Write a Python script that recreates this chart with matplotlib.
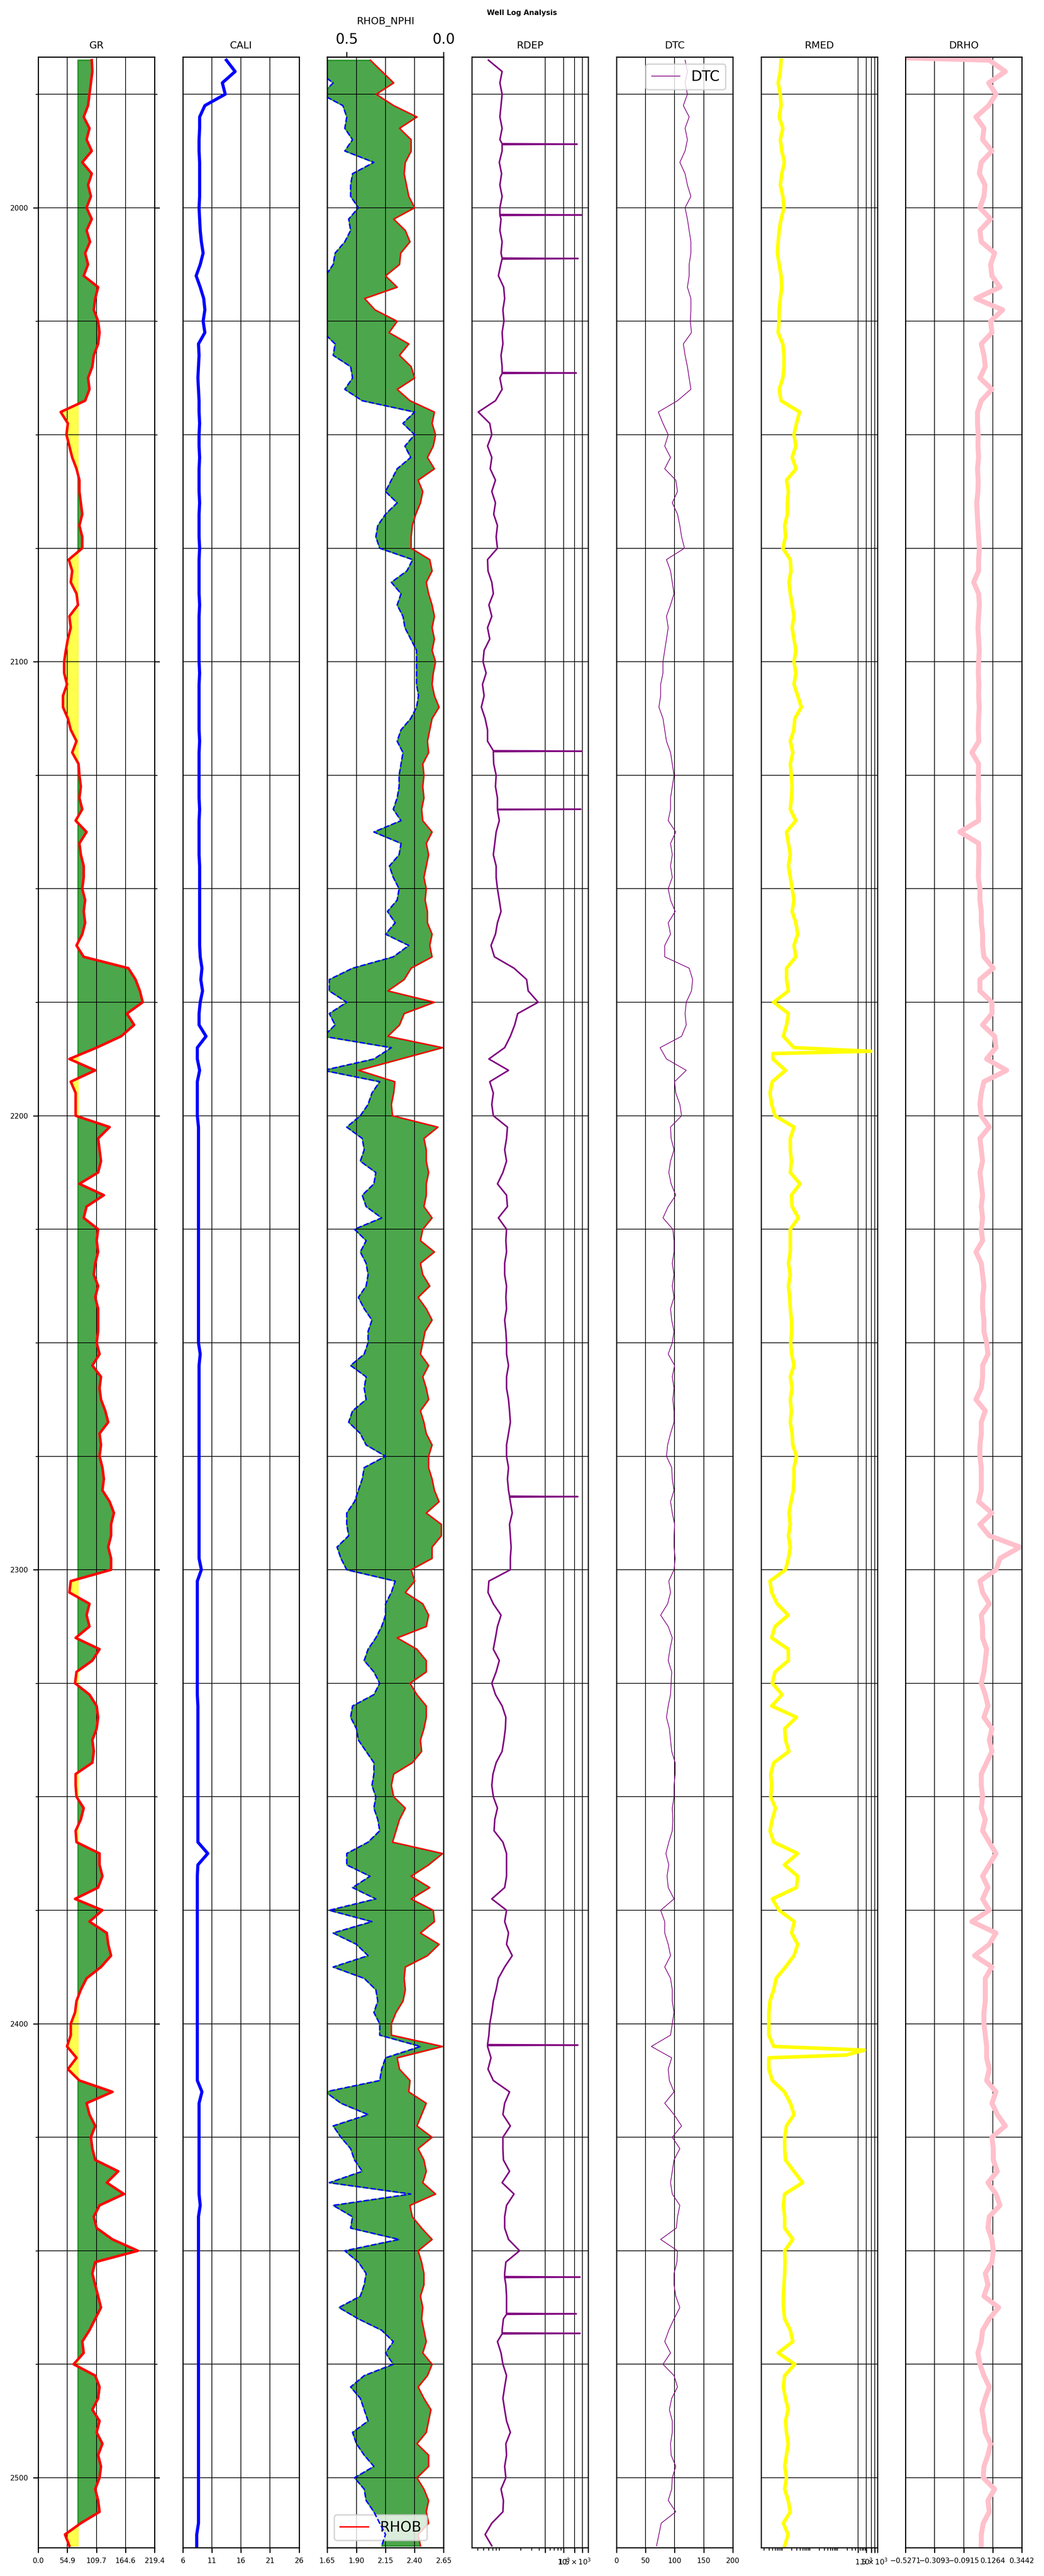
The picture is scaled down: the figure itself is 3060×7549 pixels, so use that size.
import numpy as np
import matplotlib
matplotlib.use("Agg")
import matplotlib.pyplot as plt
from matplotlib.ticker import MultipleLocator, NullFormatter

# depth samples (m), every 2.5 m
depth = np.arange(1967.5, 2515.1, 2.5)

gr = [101.0, 102.1, 99.4, 96.7, 94.0, 85.8, 96.7, 91.2, 101.0, 83.1,
      101.0, 94.0, 99.4, 91.2, 101.0, 91.2, 97.8, 88.5, 94.0, 85.8,
      113.0, 107.5, 104.8, 113.0, 115.7, 113.0, 104.8, 102.1, 94.0, 96.7,
      88.5, 42.4, 55.9, 53.2, 58.7, 64.1, 72.2, 77.7, 77.7, 80.4,
      83.1, 77.7, 83.1, 83.1, 57.6, 64.1, 61.4, 72.2, 75.0, 58.7,
      61.4, 55.9, 52.1, 48.9, 48.9, 54.3, 46.7, 46.7, 55.9, 61.4,
      72.2, 64.1, 76.0, 77.7, 80.4, 77.7, 83.1, 70.6, 91.2, 77.7,
      80.4, 85.8, 85.8,
      83.1, 88.5, 85.8, 88.5, 83.1, 72.2, 85.8, 170.0, 183.6, 191.7,
      197.1, 167.3, 180.9, 156.4, 110.2, 58.7, 107.5, 61.4, 70.6, 70.6,
      70.6, 134.7, 113.0, 115.7, 118.4, 113.0, 77.7, 123.8, 91.2, 85.8,
      113.0, 110.2, 113.0, 107.5, 104.8, 113.0, 107.5, 113.0, 113.0, 113.0,
      110.2, 115.7, 102.1, 118.4, 115.7, 118.4, 126.5, 132.0, 115.7, 118.4,
      115.7, 121.1, 123.8, 121.1, 134.7, 142.8, 137.4, 137.4, 132.0, 137.4,
      137.4, 61.4, 58.7, 96.7, 91.2, 96.7, 70.6, 115.7, 102.1, 72.2,
      69.5, 96.7, 110.2, 113.0,
      110.2, 102.1, 104.8, 102.1, 70.6, 70.6, 72.2, 85.8, 80.4, 70.6,
      72.2, 115.7, 115.7, 121.1, 113.0, 69.5, 121.1, 96.7, 129.3, 132.0,
      137.4, 118.4, 91.2, 80.4, 72.2, 69.5, 61.4, 61.4, 54.3, 72.2,
      55.9, 77.7, 140.1, 91.2, 96.7, 107.5, 99.4, 102.1, 107.5, 151.0,
      129.3, 161.8, 115.7, 104.8, 110.2, 140.1, 188.0, 107.5, 102.1, 107.5,
      113.0, 118.4, 107.5, 96.7, 83.1, 85.8, 66.8, 107.5, 115.7, 113.0,
      102.1, 115.7, 110.2, 121.1, 113.0, 118.4, 115.7, 107.5, 113.0, 115.7,
      80.4, 50.5, 58.7]

cali = [13.5, 15.0, 12.8, 13.3, 9.8, 8.9, 8.9, 8.8, 8.8, 8.9,
        8.9, 8.9, 8.9, 8.8, 8.9, 9.0, 9.2, 9.5, 9.0, 8.3,
        9.0, 9.6, 9.8, 9.5, 9.8, 8.7, 8.8, 8.7, 8.6, 8.7,
        8.8, 8.8, 8.9, 8.8, 8.8, 8.9, 8.8, 8.8, 8.8, 8.9,
        8.8, 8.8, 8.8, 8.9, 8.8, 8.8, 8.8, 8.8, 8.9, 8.8,
        8.8, 8.8, 8.8, 8.8, 8.9, 8.8, 8.8, 8.8, 8.8, 8.8,
        8.9, 8.8, 8.8, 8.8, 8.8, 8.8, 8.9, 8.8, 8.8, 8.8,
        8.8, 8.9, 8.9,
        8.9, 8.9, 8.9, 8.9, 8.9, 8.9, 9.0, 9.3, 9.1, 9.4,
        9.0, 8.8, 8.8, 10.0, 8.5, 8.5, 8.9, 8.5, 8.5, 8.5,
        8.5, 8.7, 8.7, 8.7, 8.7, 8.7, 8.7, 8.7, 8.7, 8.7,
        8.7, 8.7, 8.7, 8.7, 8.7, 8.7, 8.7, 8.7, 8.7, 8.7,
        8.7, 9.0, 8.8, 8.8, 8.8, 8.8, 8.8, 8.8, 8.8, 8.8,
        8.8, 8.8, 8.8, 8.8, 8.8, 8.8, 8.8, 8.8, 8.8, 8.8,
        9.2, 8.5, 8.5, 8.5, 8.5, 8.5, 8.5, 8.5, 8.5, 8.5,
        8.5, 8.5, 8.6, 8.6,
        8.6, 8.6, 8.6, 8.6, 8.6, 8.6, 8.6, 8.6, 8.6, 8.6,
        8.6, 10.3, 8.6, 8.5, 8.5, 8.5, 8.5, 8.5, 8.5, 8.5,
        8.5, 8.5, 8.5, 8.5, 8.5, 8.5, 8.5, 8.5, 8.5, 8.5,
        8.5, 8.5, 9.3, 8.8, 8.8, 8.8, 8.8, 8.8, 8.8, 8.8,
        8.8, 8.8, 9.0, 8.7, 8.7, 8.7, 8.7, 8.7, 8.7, 8.7,
        8.7, 8.7, 8.7, 8.7, 8.7, 8.7, 8.7, 8.7, 8.7, 8.7,
        8.7, 8.7, 8.7, 8.7, 8.7, 8.7, 8.7, 8.7, 8.7, 8.7,
        8.7, 8.4, 8.4]

rhob = [2.02, 2.12, 2.22, 2.07, 2.22, 2.42, 2.27, 2.37, 2.37, 2.32,
        2.31, 2.33, 2.35, 2.40, 2.22, 2.32, 2.36, 2.28, 2.27, 2.15,
        2.25, 1.97, 2.06, 2.25, 2.18, 2.35, 2.27, 2.37, 2.40, 2.25,
        2.36, 2.57, 2.55, 2.58, 2.56, 2.51, 2.57, 2.43, 2.47, 2.45,
        2.41, 2.38, 2.37, 2.37, 2.53, 2.55, 2.50, 2.52, 2.55, 2.57,
        2.55, 2.57, 2.55, 2.58, 2.56, 2.55, 2.57, 2.61, 2.55, 2.53,
        2.51, 2.52, 2.47, 2.48, 2.47, 2.48, 2.46, 2.47, 2.55, 2.50,
        2.52, 2.50, 2.48,
        2.50, 2.49, 2.51, 2.51, 2.55, 2.53, 2.55, 2.37, 2.31, 2.17,
        2.57, 2.31, 2.27, 2.17, 2.64, 2.28, 1.92, 2.23, 2.22, 2.20,
        2.21, 2.60, 2.48, 2.50, 2.50, 2.52, 2.50, 2.50, 2.48, 2.55,
        2.47, 2.45, 2.57, 2.45, 2.47, 2.53, 2.43, 2.50, 2.55, 2.49,
        2.47, 2.45, 2.52, 2.47, 2.50, 2.52, 2.45, 2.48, 2.50, 2.55,
        2.52, 2.52, 2.55, 2.57, 2.61, 2.50, 2.63, 2.63, 2.55, 2.55,
        2.37, 2.40, 2.32, 2.47, 2.52, 2.50, 2.25, 2.42, 2.50, 2.50,
        2.36, 2.42, 2.50, 2.50,
        2.48, 2.45, 2.46, 2.38, 2.22, 2.20, 2.22, 2.32, 2.27, 2.24,
        2.21, 2.64, 2.52, 2.37, 2.53, 2.37, 2.56, 2.57, 2.45, 2.61,
        2.51, 2.32, 2.31, 2.32, 2.30, 2.24, 2.20, 2.20, 2.64, 2.25,
        2.27, 2.36, 2.35, 2.50, 2.46, 2.42, 2.55, 2.43, 2.48, 2.50,
        2.47, 2.58, 2.36, 2.38, 2.46, 2.55, 2.43, 2.46, 2.48, 2.48,
        2.45, 2.47, 2.46, 2.48, 2.50, 2.47, 2.55, 2.51, 2.43, 2.48,
        2.54, 2.52, 2.50, 2.42, 2.52, 2.52, 2.42, 2.48, 2.52, 2.50,
        2.52, 2.43, 2.45]

nphi = [0.65, 0.65, 0.57, 0.63, 0.52, 0.50, 0.51, 0.47, 0.51, 0.36,
        0.47, 0.48, 0.48, 0.44, 0.49, 0.48, 0.51, 0.56, 0.57, 0.61,
        0.62, 0.62, 0.63, 0.63, 0.62, 0.56, 0.57, 0.48, 0.47, 0.51,
        0.42, 0.15, 0.21, 0.15, 0.20, 0.17, 0.24, 0.27, 0.30, 0.24,
        0.30, 0.34, 0.35, 0.33, 0.16, 0.19, 0.27, 0.22, 0.24, 0.21,
        0.20, 0.17, 0.14, 0.14, 0.14, 0.14, 0.13, 0.14, 0.17, 0.22,
        0.24, 0.21, 0.22, 0.23, 0.23, 0.24, 0.26, 0.22, 0.36, 0.22,
        0.23, 0.28, 0.26,
        0.23, 0.24, 0.29, 0.25, 0.30, 0.18, 0.26, 0.47, 0.59, 0.59,
        0.50, 0.59, 0.56, 0.62, 0.27, 0.36, 0.62, 0.33, 0.37, 0.39,
        0.43, 0.50, 0.42, 0.41, 0.43, 0.35, 0.36, 0.42, 0.40, 0.32,
        0.46, 0.40, 0.43, 0.40, 0.39, 0.40, 0.44, 0.41, 0.37, 0.39,
        0.39, 0.41, 0.48, 0.40, 0.41, 0.40, 0.47, 0.49, 0.43, 0.40,
        0.30, 0.41, 0.42, 0.44, 0.46, 0.50, 0.50, 0.49, 0.55, 0.53,
        0.50, 0.25, 0.27, 0.30, 0.30, 0.32, 0.35, 0.39, 0.41, 0.36,
        0.33, 0.36, 0.47, 0.48,
        0.45, 0.44, 0.40, 0.36, 0.36, 0.37, 0.35, 0.36, 0.34, 0.33,
        0.39, 0.50, 0.50, 0.38, 0.47, 0.35, 0.59, 0.37, 0.57, 0.45,
        0.39, 0.57, 0.41, 0.35, 0.34, 0.36, 0.33, 0.33, 0.12, 0.30,
        0.32, 0.33, 0.61, 0.53, 0.39, 0.57, 0.53, 0.48, 0.46, 0.42,
        0.59, 0.17, 0.57, 0.47, 0.48, 0.23, 0.51, 0.44, 0.40, 0.41,
        0.43, 0.54, 0.44, 0.32, 0.26, 0.30, 0.26, 0.41, 0.48, 0.43,
        0.41, 0.39, 0.47, 0.45, 0.41, 0.36, 0.46, 0.41, 0.40, 0.36,
        0.33, 0.30, 0.32]

rdep = [60, 100, 92, 100, 96, 92, 100, 92, 100, 90,
        98, 92, 100, 92, 96, 92, 100, 96, 95, 87,
        106, 110, 103, 107, 100, 103, 96, 100, 92, 100,
        78, 41, 63, 68, 58, 68, 64, 78, 68, 78,
        73, 84, 80, 84, 58, 59, 68, 72, 61, 68,
        58, 63, 51, 49, 55, 48, 51, 46, 53, 58,
        58, 72, 73, 80, 78, 84, 84, 90, 80, 76,
        72, 80, 80,
        84, 90, 96, 84, 78, 66, 75, 156, 250, 265,
        385, 179, 160, 136, 110, 61, 127, 63, 72, 68,
        72, 122, 118, 110, 118, 103, 84, 118, 122, 87,
        118, 115, 118, 110, 110, 118, 115, 118, 110, 115,
        118, 118, 127, 118, 118, 127, 132, 136, 127, 118,
        118, 127, 122, 127, 136, 146, 132, 136, 140, 136,
        136, 61, 59, 72, 96, 84, 78, 72, 90, 80,
        68, 78, 100, 115,
        113, 107, 100, 80, 71, 68, 72, 84, 76, 74,
        103, 118, 118, 118, 110, 68, 118, 110, 127, 118,
        146, 110, 87, 80, 72, 68, 63, 61, 58, 66,
        59, 72, 132, 110, 103, 136, 103, 103, 105, 132,
        100, 156, 118, 110, 110, 127, 192, 115, 110, 115,
        118, 118, 105, 100, 84, 96, 103, 118, 110, 103,
        110, 118, 136, 115, 118, 110, 115, 96, 105, 103,
        68, 53, 68]

dtc = [118, 122, 118, 122, 115, 125, 118, 122, 118, 109,
       118, 122, 128, 118, 122, 125, 128, 128, 125, 125,
       122, 128, 128, 127, 129, 115, 118, 122, 125, 128,
       105, 72, 80, 89, 83, 93, 83, 102, 105, 96,
       105, 109, 112, 117, 86, 93, 96, 99, 93, 86,
       89, 86, 83, 80, 80, 76, 76, 73, 80, 83,
       86, 93, 96, 99, 96, 93, 93, 89, 102, 93,
       96, 93, 96,
       89, 93, 101, 89, 93, 83, 83, 125, 131, 129,
       120, 118, 120, 112, 75, 86, 120, 100, 102, 109,
       112, 93, 94, 99, 93, 90, 94, 102, 89, 80,
       97, 99, 99, 96, 99, 96, 99, 93, 95, 99,
       96, 89, 100, 96, 99, 97, 99, 99, 93, 88,
       86, 95, 96, 99, 93, 96, 100, 99, 99, 101,
       99, 90, 93, 88, 76, 89, 96, 92, 89, 95,
       94, 93, 89, 86,
       91, 93, 95, 101, 101, 99, 99, 96, 97, 96,
       90, 85, 90, 87, 89, 99, 76, 83, 83, 89,
       93, 83, 93, 96, 96, 99, 96, 93, 60, 95,
       89, 91, 99, 83, 99, 112, 96, 109, 99, 96,
       93, 96, 109, 105, 103, 76, 105, 104, 99, 99,
       102, 109, 99, 90, 83, 93, 80, 99, 105, 95,
       91, 96, 96, 93, 94, 102, 96, 95, 89, 102,
       77, 73, 69]

rmed = [0.83, 0.78, 0.65, 0.78, 0.83, 0.71, 0.96, 0.78, 0.88, 1.1,
        0.88, 0.78, 0.96, 1.06, 0.83, 0.71, 0.65, 0.61, 0.71, 0.83,
        0.88, 0.78, 0.71, 0.70, 0.65, 0.96, 1.06, 1.06, 0.96, 0.71,
        0.83, 3.87, 3.0, 2.43, 2.84, 2.08, 2.9, 1.31, 1.53, 1.4,
        1.4, 1.12, 1.2, 0.96, 1.79, 1.9, 1.6, 1.79, 2.08, 2.43,
        2.08, 2.43, 2.84, 2.43, 2.84, 2.43, 3.31, 4.5, 2.6, 2.4,
        1.79, 2.2, 1.79, 1.96, 2.08, 1.96, 1.79, 2.84, 1.31, 1.53,
        1.79, 1.53, 1.79,
        2.08, 2.43, 2.08, 2.84, 3.31, 2.43, 2.84, 1.31, 1.31, 1.53,
        0.45, 1.53, 1.31, 1.0, 2.43, 0.42, 1.2, 0.40, 0.33, 0.38,
        0.50, 2.43, 1.79, 1.79, 1.96, 1.79, 4.0, 1.96, 2.08, 3.5,
        1.79, 1.79, 1.79, 1.53, 1.79, 1.53, 1.7, 1.79, 1.96, 2.0,
        1.85, 2.0, 2.43, 1.79, 2.08, 1.79, 1.96, 1.79, 2.08, 2.2,
        3.0, 2.43, 2.43, 2.3, 1.9, 1.6, 1.79, 1.53, 1.79, 1.53,
        1.2, 0.33, 0.38, 0.6, 1.5, 0.5, 0.38, 1.5, 1.53, 0.5,
        0.4, 0.9, 0.38, 3.0,
        1.12, 1.2, 1.6, 0.45, 0.35, 0.38, 0.35, 0.52, 0.40, 0.33,
        0.45, 3.3, 1.1, 3.3, 3.0, 0.40, 0.7, 2.5, 2.0, 3.3,
        2.43, 1.2, 0.55, 0.45, 0.33, 0.30, 0.30, 0.30, 0.45, 0.30,
        0.30, 0.40, 1.1, 1.8, 2.43, 1.3, 1.12, 1.12, 1.2, 2.4,
        5.0, 1.12, 1.0, 1.12, 1.12, 2.2, 1.12, 1.15, 1.12, 1.06,
        1.0, 1.0, 1.12, 1.79, 2.2, 0.65, 2.6, 1.12, 1.0, 1.2,
        1.5, 1.2, 1.3, 1.5, 1.3, 1.12, 1.3, 1.12, 1.5, 1.79,
        1.0, 1.5, 1.12]

drho = [0.10, 0.22, 0.096, 0.15, 0.096, 0.0, 0.06, 0.05, 0.12, 0.04,
        0.026, 0.068, 0.06, 0.03, 0.11, 0.03, 0.04, 0.14, 0.11, 0.12,
        0.18, 0.0, 0.20, 0.11, 0.12, 0.04, 0.06, 0.07, 0.03, 0.12,
        0.04, 0.012, 0.012, 0.017, 0.015, 0.02, 0.012, 0.017, 0.015, 0.006,
        0.01, 0.015, 0.02, 0.026, 0.02, 0.02, -0.017, 0.02, 0.026, 0.02,
        0.015, 0.02, 0.025, 0.02, 0.018, 0.022, 0.02, 0.025, 0.02, 0.018,
        0.022, -0.03, 0.02, 0.018, 0.02, 0.017, 0.02, 0.02, -0.12, 0.02,
        0.022, 0.02, 0.018,
        0.03, 0.03, 0.04, 0.04, 0.05, 0.05, 0.06, 0.13, 0.03, 0.03,
        0.12, 0.12, 0.05, 0.14, 0.15, 0.08, 0.23, 0.06, 0.04, 0.03,
        0.04, 0.10, 0.03, 0.04, 0.05, 0.03, 0.04, 0.05, 0.04, 0.05,
        0.04, 0.05, 0.00, 0.04, 0.05, 0.06, 0.05, 0.05, 0.06, 0.06,
        0.08, 0.09, 0.05, 0.05, 0.04, 0.00, 0.07, 0.04, 0.04, 0.03,
        0.03, 0.04, 0.04, 0.04, 0.02, 0.12, 0.03, 0.10, 0.33, 0.18,
        0.15, 0.03, 0.05, 0.10, 0.04, 0.05, 0.05, 0.08, 0.07, 0.06,
        0.04, 0.07, 0.09, 0.06,
        0.12, 0.10, 0.12, 0.08, 0.04, 0.04, 0.05, 0.04, 0.07, 0.05,
        0.10, 0.15, 0.10, 0.05, 0.09, 0.05, 0.10, -0.03, 0.15, 0.10,
        -0.01, 0.12, 0.07, 0.07, 0.07, 0.06, 0.06, 0.07, 0.08, 0.08,
        0.10, 0.08, 0.15, 0.12, 0.16, 0.22, 0.12, 0.13, 0.13, 0.16,
        0.09, 0.15, 0.18, 0.10, 0.09, 0.12, 0.13, 0.12, 0.07, 0.09,
        0.06, 0.17, 0.10, 0.05, 0.04, 0.015, 0.03, 0.06, 0.10, 0.07,
        0.045, 0.06, 0.07, 0.11, 0.09, 0.06, 0.055, 0.14, 0.09, 0.10,
        0.055, 0.04, 0.04]

# thin spikes in RDEP: (depth, value around it, peak)
rdep_spikes = [(1986.0, 100, 1650), (2001.6, 92, 1950), (2011.2, 100, 1710),
               (2036.4, 100, 1600), (2119.7, 72, 1970), (2132.5, 84, 1900),
               (2283.9, 132, 1695), (2404.7, 58, 1695), (2455.8, 110, 1840),
               (2463.9, 118, 1600), (2468.2, 100, 1840)]
# extra (depth, value) points
rmed_extra = [(2185.8, 1450), (2186.3, 0.42), (2405.8, 857), (2406.9, 183)]
drho_extra = [(1967.0, -0.5271)]

gr_cutoff = 75

gr_ticks = [0.0, 54.9, 109.7, 164.6, 219.4]
cali_ticks = [6, 11, 16, 21, 26]
rhob_ticks = [1.65, 1.90, 2.15, 2.40, 2.65]
res_ticks = [500, 1000, 1500, 2000, 2500]
res_labels = ['', r'$\mathdefault{10^{3}}$', r'$\mathdefault{1.5\times10^{3}}$', '', '']
dtc_ticks = [0, 50, 100, 150, 200]
drho_ticks = [-0.5271, -0.3093, -0.0915, 0.1264, 0.3442]


def curve(values, extra=()):
    n = min(len(values), len(depth))
    pts = sorted(list(zip(depth[:n], values[:n])) + list(extra))
    return np.array([p[0] for p in pts]), np.array([p[1] for p in pts])


spike_pts = []
for d, base, peak in rdep_spikes:
    spike_pts += [(d - 0.1, base), (d, peak), (d + 0.1, base)]

gr_d, gr_v = curve(gr)
cali_d, cali_v = curve(cali)
rdep_d, rdep_v = curve(rdep, spike_pts)
dtc_d, dtc_v = curve(dtc)
rmed_d, rmed_v = curve(rmed, rmed_extra)
drho_d, drho_v = curve(drho, drho_extra)
n = min(len(rhob), len(nphi), len(depth))
dn_d = depth[:n]
rhob_v = np.array(rhob[:n])
nphi_v = np.array(nphi[:n])
# neutron drawn on the density scale (0.6 -> 1.65, 0.0 -> 2.65)
nphi_on_rhob = 1.65 + (0.6 - nphi_v) / 0.6

fig = plt.figure(figsize=(10.2, 7549 / 300), dpi=300)
fig.text(0.5, 0.995, 'Well Log Analysis', ha='center', va='center',
         fontsize=5, fontweight='bold')

axes = []
for i in range(7):
    rect = [(112 + i * 423.7) / 3060, 83 / 7549, 341 / 3060, 7299 / 7549]
    axes.append(fig.add_axes(rect, sharey=axes[0] if axes else None))
ax_gr, ax_cali, ax_rhob, ax_rdep, ax_dtc, ax_rmed, ax_drho = axes

# GR
ax_gr.plot(gr_v, gr_d, color='red', lw=1.8)
ax_gr.fill_betweenx(gr_d, gr_cutoff, gr_v, where=gr_v >= gr_cutoff,
                    color='green', alpha=0.7, interpolate=True)
ax_gr.fill_betweenx(gr_d, gr_cutoff, gr_v, where=gr_v < gr_cutoff,
                    color='yellow', alpha=0.7, interpolate=True)
ax_gr.set_xlim(0, 219.4)
ax_gr.set_xticks(gr_ticks, [f'{t:.1f}' for t in gr_ticks])
ax_gr.set_title('GR', fontsize=7)

# CALI
ax_cali.plot(cali_v, cali_d, color='blue', lw=2.2)
ax_cali.set_xlim(6, 26)
ax_cali.set_xticks(cali_ticks, [str(t) for t in cali_ticks])
ax_cali.set_title('CALI', fontsize=7)

# RHOB / NPHI
ax_rhob.plot(rhob_v, dn_d, color='red', lw=1, label='RHOB')
ax_rhob.fill_betweenx(dn_d, nphi_on_rhob, rhob_v, where=nphi_on_rhob <= rhob_v,
                      color='green', alpha=0.7, interpolate=True)
ax_rhob.fill_betweenx(dn_d, nphi_on_rhob, rhob_v, where=nphi_on_rhob > rhob_v,
                      color='yellow', alpha=0.7, interpolate=True)
ax_rhob.set_xlim(1.65, 2.65)
ax_rhob.set_xticks(rhob_ticks, [f'{t:.2f}' for t in rhob_ticks])
ax_rhob.legend(loc='lower left')
ax_nphi = ax_rhob.twiny()
ax_nphi.plot(nphi_v, dn_d, color='blue', ls='--', lw=1)
ax_nphi.set_xlim(0.6, 0.0)
ax_nphi.set_xticks([0.5, 0.0])
ax_nphi.set_title('RHOB_NPHI', fontsize=7)

# RDEP
ax_rdep.plot(rdep_v, rdep_d, color='purple', lw=1.1)
ax_rdep.set_xscale('log')
ax_rdep.set_xlim(32.3, 2500)
ax_rdep.set_title('RDEP', fontsize=7)

# DTC
ax_dtc.plot(dtc_v, dtc_d, color='purple', lw=0.5, label='DTC')
ax_dtc.set_xlim(0, 200)
ax_dtc.set_xticks(dtc_ticks, [str(t) for t in dtc_ticks])
ax_dtc.legend(loc='upper right')
ax_dtc.set_title('DTC', fontsize=7)

# RMED
ax_rmed.plot(rmed_v, rmed_d, color='yellow', lw=2.5)
ax_rmed.set_xscale('log')
ax_rmed.set_xlim(0.156, 2500)
ax_rmed.set_title('RMED', fontsize=7)

for ax in (ax_rdep, ax_rmed):
    ax.set_xticks(res_ticks, res_labels)
    ax.xaxis.set_minor_formatter(NullFormatter())

# DRHO
ax_drho.plot(drho_v, drho_d, color='pink', lw=3.5)
ax_drho.set_xlim(-0.5271, 0.3442)
ax_drho.set_xticks(drho_ticks, [f'{t:.4f}'.replace('-', '\u2212') for t in drho_ticks])
ax_drho.set_title('DRHO', fontsize=7)

ax_gr.set_ylim(2515.4, 1966.8)
ax_gr.yaxis.set_major_locator(MultipleLocator(100))
ax_gr.yaxis.set_minor_locator(MultipleLocator(25))

for ax in axes:
    ax.tick_params(axis='x', which='both', labelsize=5)
    ax.grid(True, axis='x', which='major', color='black', lw=0.5)
    ax.grid(True, axis='y', which='both', color='black', lw=0.5)
    if ax is ax_gr:
        ax.tick_params(axis='y', which='both', left=True, right=True, labelsize=5)
    else:
        ax.tick_params(axis='y', which='both', left=False, right=False, labelleft=False)

fig.savefig('out.png', dpi=300)
